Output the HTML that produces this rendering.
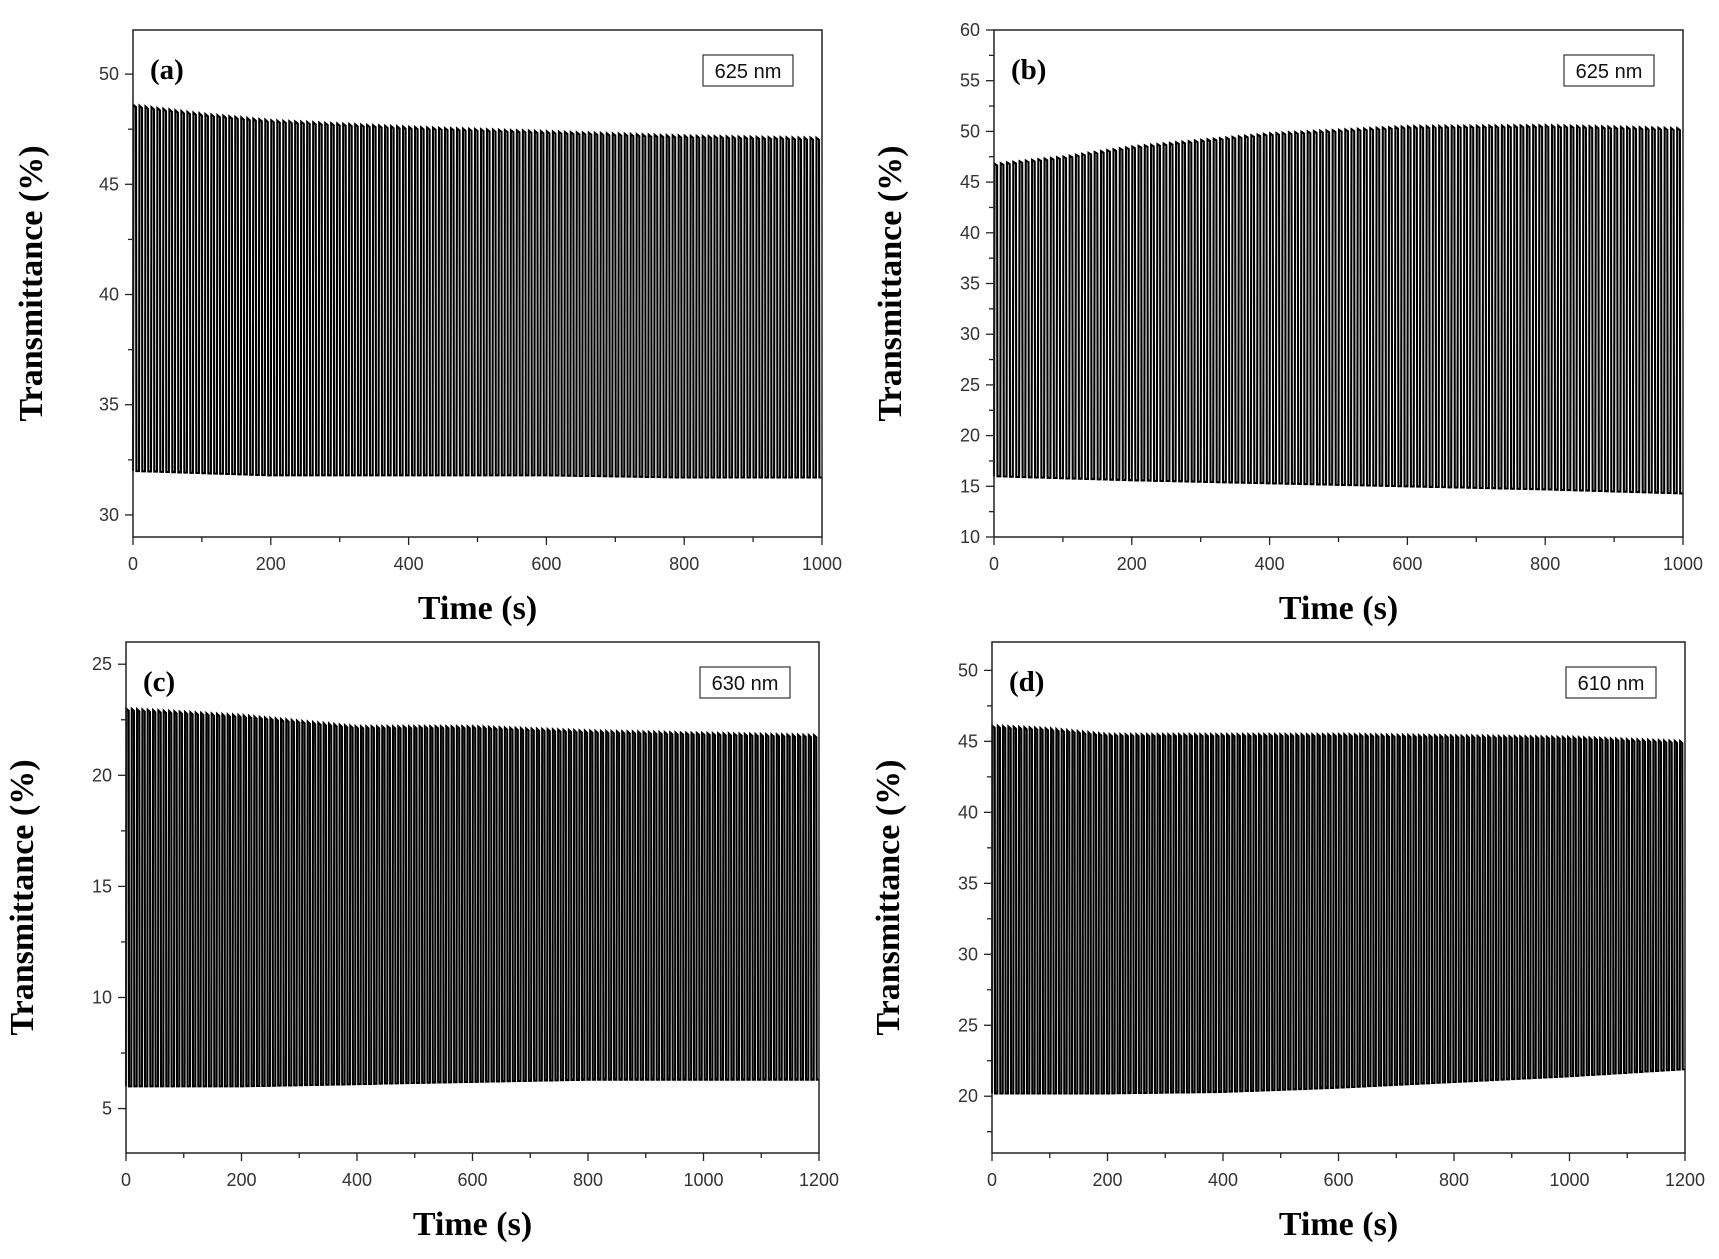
<!DOCTYPE html>
<html><head><meta charset="utf-8"><style>
html,body{margin:0;padding:0;background:#fff}
svg{display:block}
</style></head><body>
<svg id="fig" width="1719" height="1259" viewBox="0 0 1719 1259" xmlns="http://www.w3.org/2000/svg"></svg>
<script>
// ---- data (envelopes of the oscillating transmittance signal) ----
const aTimes = [0,100,200,400,600,800,1000];
const aUpper = [48.6,48.2,47.9,47.6,47.4,47.2,47.1];
const aLower = [32.0,31.9,31.8,31.8,31.8,31.7,31.7];
const aCycles = 115;
const bTimes = [0,100,200,400,600,800,1000];
const bUpper = [46.8,47.5,48.5,49.8,50.5,50.6,50.3];
const bLower = [16.0,15.8,15.6,15.3,15.0,14.7,14.3];
const bCycles = 110;
const cTimes = [0,200,400,600,800,1000,1200];
const cUpper = [23.0,22.7,22.2,22.2,22.0,21.9,21.8];
const cLower = [6.0,6.0,6.1,6.2,6.3,6.3,6.3];
const cCycles = 130;
const dTimes = [0,100,200,400,600,800,1000,1200];
const dUpper = [46.1,45.9,45.5,45.5,45.5,45.4,45.3,45.0];
const dLower = [20.2,20.2,20.2,20.3,20.6,21.0,21.4,21.9];
const dCycles = 130;
const abXTicks = [0,200,400,600,800,1000];
const cdXTicks = [0,200,400,600,800,1000,1200];
const aYTicks = [30,35,40,45,50];
const bYTicks = [10,15,20,25,30,35,40,45,50,55,60];
const cYTicks = [5,10,15,20,25];
const dYTicks = [20,25,30,35,40,45,50];

const NS="http://www.w3.org/2000/svg";
const svg=document.getElementById('fig');
function mk(tag,attrs,parent){const e=document.createElementNS(NS,tag);for(const k in attrs)e.setAttribute(k,attrs[k]);(parent||svg).appendChild(e);return e;}
function interp(ts,vs,t){for(let i=0;i<ts.length-1;i++){if(t<=ts[i+1]){const f=(t-ts[i])/(ts[i+1]-ts[i]);return vs[i]+f*(vs[i+1]-vs[i]);}}return vs[vs.length-1];}

function panel(p){
  const g=mk('g',{});
  
  
  const X=v=>p.L+(v-p.x0)/(p.x1-p.x0)*(p.R-p.L);
  const Y=v=>p.B-(v-p.y0)/(p.y1-p.y0)*(p.B-p.T);
  let d='';
  const P=(p.x1-p.x0)/p.cycles;
  for(let k=0;k<p.cycles;k++){
    const t0=p.x0+k*P;
    const ta=t0+0.08*P, tb=t0+0.5*P, te=t0+P;
    const lo0=interp(p.times,p.lower,t0), hi=interp(p.times,p.upper,ta), hi2=interp(p.times,p.upper,tb)-0.15*(p.y1-p.y0)/40;
    const lo1=interp(p.times,p.lower,Math.min(te,p.x1));
    d+=(k===0?'M':'L')+X(t0).toFixed(1)+','+Y(lo0).toFixed(1);
    d+='L'+X(ta).toFixed(1)+','+Y(hi).toFixed(1);
    d+='L'+X(tb).toFixed(1)+','+Y(hi2).toFixed(1);
    d+='L'+X(tb+0.06*P).toFixed(1)+','+Y(lo1).toFixed(1);
  }
  d+='L'+X(p.x1).toFixed(1)+','+Y(interp(p.times,p.lower,p.x1)).toFixed(1);
  const line=mk('path',{d:d,fill:'none',stroke:'#000','stroke-width':2.1,'stroke-linejoin':'miter'},g);
  
  
  const fr=mk('rect',{x:p.L,y:p.T,width:p.R-p.L,height:p.B-p.T,fill:'none',stroke:'#222','stroke-width':1.5},g);
  
  
  const xs=p.xticks;const xstep=xs[1]-xs[0];
  for(let v=p.x0;v<=p.x1+1e-9;v+=xstep/2){
    const major=xs.some(t=>Math.abs(t-v)<1e-6);
    mk('line',{x1:X(v),x2:X(v),y1:p.B,y2:p.B+(major?8:5),stroke:'#222','stroke-width':1.3},g);
  }
  xs.forEach(v=>{
    const t=mk('text',{x:X(v),y:p.B+33,'text-anchor':'middle','font-family':'Liberation Sans, sans-serif','font-size':18,fill:'#333'},g);
    t.textContent=v;
    
    
  });
  const ys=p.yticks;const ystep=ys[1]-ys[0];
  for(let v=Math.ceil(p.y0/(ystep/2))*(ystep/2);v<=p.y1+1e-9;v+=ystep/2){
    const major=ys.some(t=>Math.abs(t-v)<1e-6);
    mk('line',{x1:p.L,x2:p.L-(major?8:5),y1:Y(v),y2:Y(v),stroke:'#222','stroke-width':1.3},g);
  }
  ys.forEach(v=>{
    const t=mk('text',{x:p.L-14,y:Y(v)+6,'text-anchor':'end','font-family':'Liberation Sans, sans-serif','font-size':18,fill:'#333'},g);
    t.textContent=v;
    
    
  });
  const xt=mk('text',{x:(p.L+p.R)/2,y:p.B+82,'text-anchor':'middle','font-family':'Liberation Serif, serif','font-weight':'bold','font-size':34,fill:'#000'},g);
  xt.textContent='Time (s)';
  
  
  const yx=p.ytx, yy=(p.T+p.B)/2;
  const yt=mk('text',{x:yx,y:yy,'text-anchor':'middle','font-family':'Liberation Serif, serif','font-weight':'bold','font-size':34,fill:'#000',transform:'rotate(-90 '+yx+' '+yy+')'},g);
  yt.textContent='Transmittance (%)';
  
  
  const pl=mk('text',{x:p.L+17,y:p.T+49,'font-family':'Liberation Serif, serif','font-weight':'bold','font-size':29,fill:'#000'},g);
  pl.textContent='('+p.id+')';
  
  
  const bx=mk('rect',{x:p.R-119,y:p.T+25,width:90,height:31,fill:'#fff',stroke:'#333','stroke-width':1.2},g);
  
  
  const bt=mk('text',{x:p.R-74,y:p.T+48,'text-anchor':'middle','font-family':'Liberation Sans, sans-serif','font-size':20,fill:'#111'},g);
  bt.textContent=p.wl;
  
  
}
panel({id:'a',L:133,R:822,T:30,B:537,x0:0,x1:1000,y0:29,y1:52,times:aTimes,upper:aUpper,lower:aLower,cycles:aCycles,xticks:abXTicks,yticks:aYTicks,ytx:42,wl:'625 nm'});
panel({id:'b',L:994,R:1683,T:30,B:537,x0:0,x1:1000,y0:10,y1:60,times:bTimes,upper:bUpper,lower:bLower,cycles:bCycles,xticks:abXTicks,yticks:bYTicks,ytx:901,wl:'625 nm'});
panel({id:'c',L:126,R:819,T:642,B:1153,x0:0,x1:1200,y0:3,y1:26,times:cTimes,upper:cUpper,lower:cLower,cycles:cCycles,xticks:cdXTicks,yticks:cYTicks,ytx:33,wl:'630 nm'});
panel({id:'d',L:992,R:1685,T:642,B:1153,x0:0,x1:1200,y0:16,y1:52,times:dTimes,upper:dUpper,lower:dLower,cycles:dCycles,xticks:cdXTicks,yticks:dYTicks,ytx:899,wl:'610 nm'});
</script>
</body></html>
